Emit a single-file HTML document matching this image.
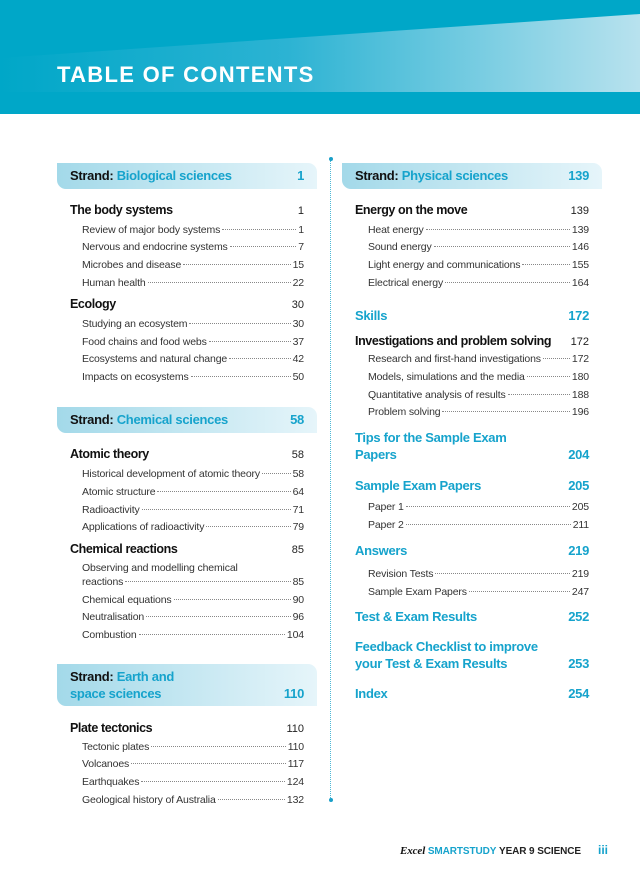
<!DOCTYPE html>
<html><head><meta charset="utf-8"><style>
*{margin:0;padding:0;box-sizing:border-box}
body{width:640px;height:875px;position:relative;background:#fff;font-family:"Liberation Sans",sans-serif;color:#222;overflow:hidden}
.hdr{position:absolute;left:0;top:0;width:640px;height:114px;background:#00a7c8;overflow:hidden}
.hdr .sw{position:absolute;left:0;top:0;width:640px;height:114px}
.title{position:absolute;left:57px;top:62px;font-size:22px;font-weight:bold;color:#fff;letter-spacing:1.3px}
.vl{position:absolute;left:330px;top:160px;height:640px;border-left:1px dotted #4db8d6}
.dot{position:absolute;width:4px;height:4px;border-radius:2px;background:#1a9fc8;left:328.5px}
.box{position:absolute;height:26px;border-radius:0 9px 0 9px;background:linear-gradient(90deg,#a3d9e9,#e6f5fa)}
.r{position:absolute;display:flex;align-items:baseline;height:16px;line-height:16px;white-space:nowrap}
.s{font-size:10.5px;letter-spacing:-0.15px;color:#333}
.h{font-size:12.5px;font-weight:bold;letter-spacing:-0.4px;color:#111}
.b{font-size:13px;font-weight:bold;letter-spacing:-0.3px;color:#16a3cc}
.st{font-size:13px;font-weight:bold;letter-spacing:-0.3px;color:#111}
.st span{color:#16a3cc}
.l{flex:1;border-bottom:1px dotted #888;margin:0 2px;height:1px;position:relative;top:-3px}
.g{flex:1}
.hn{font-size:11px;color:#222;font-weight:normal;letter-spacing:0}
</style></head><body>
<div class="hdr"><svg class="sw" viewBox="0 0 640 114"><defs><linearGradient id="g1" x1="0" x2="1"><stop offset="0" stop-color="#00a7c8"/><stop offset="0.45" stop-color="#2cb3d3"/><stop offset="1" stop-color="#b8e2ee"/></linearGradient></defs><polygon points="0,58 640,14 640,112 0,112" fill="url(#g1)"/><rect x="0" y="92" width="640" height="22" fill="#00a7c8"/></svg>
<div class="title">TABLE OF CONTENTS</div></div>
<div class="vl"></div><div class="dot" style="top:157px"></div><div class="dot" style="top:798px"></div>

<div class="box" style="left:57px;top:163px;width:260px"></div>
<div class="box" style="left:57px;top:407px;width:260px"></div>
<div class="box" style="left:57px;top:664px;width:260px;height:42px"></div>
<div class="box" style="left:342px;top:163px;width:260px"></div>

<div class="r st" style="left:70px;width:234px;top:168px">Strand:&nbsp;<span>Biological sciences</span><i class="g"></i><span>1</span></div>
<div class="r st" style="left:70px;width:234px;top:412px">Strand:&nbsp;<span>Chemical sciences</span><i class="g"></i><span>58</span></div>
<div class="r st" style="left:70px;width:234px;top:669px">Strand:&nbsp;<span>Earth and</span></div>
<div class="r st" style="left:70px;width:234px;top:686px"><span>space sciences</span><i class="g"></i><span>110</span></div>
<div class="r st" style="left:355px;width:234px;top:168px">Strand:&nbsp;<span>Physical sciences</span><i class="g"></i><span>139</span></div>

<div class="r h" style="left:70px;width:234px;top:202px">The body systems<i class="g"></i><span class="hn">1</span></div>
<div class="r s" style="left:82px;width:222px;top:222px">Review of major body systems<i class="l"></i>1</div>
<div class="r s" style="left:82px;width:222px;top:239px">Nervous and endocrine systems<i class="l"></i>7</div>
<div class="r s" style="left:82px;width:222px;top:257px">Microbes and disease<i class="l"></i>15</div>
<div class="r s" style="left:82px;width:222px;top:275px">Human health<i class="l"></i>22</div>
<div class="r h" style="left:70px;width:234px;top:296px">Ecology<i class="g"></i><span class="hn">30</span></div>
<div class="r s" style="left:82px;width:222px;top:316px">Studying an ecosystem<i class="l"></i>30</div>
<div class="r s" style="left:82px;width:222px;top:334px">Food chains and food webs<i class="l"></i>37</div>
<div class="r s" style="left:82px;width:222px;top:351px">Ecosystems and natural change<i class="l"></i>42</div>
<div class="r s" style="left:82px;width:222px;top:369px">Impacts on ecosystems<i class="l"></i>50</div>

<div class="r h" style="left:70px;width:234px;top:446px">Atomic theory<i class="g"></i><span class="hn">58</span></div>
<div class="r s" style="left:82px;width:222px;top:466px">Historical development of atomic theory<i class="l"></i>58</div>
<div class="r s" style="left:82px;width:222px;top:484px">Atomic structure<i class="l"></i>64</div>
<div class="r s" style="left:82px;width:222px;top:502px">Radioactivity<i class="l"></i>71</div>
<div class="r s" style="left:82px;width:222px;top:519px">Applications of radioactivity<i class="l"></i>79</div>
<div class="r h" style="left:70px;width:234px;top:541px">Chemical reactions<i class="g"></i><span class="hn">85</span></div>
<div class="r s" style="left:82px;width:222px;top:560px">Observing and modelling chemical</div>
<div class="r s" style="left:82px;width:222px;top:574px">reactions<i class="l"></i>85</div>
<div class="r s" style="left:82px;width:222px;top:592px">Chemical equations<i class="l"></i>90</div>
<div class="r s" style="left:82px;width:222px;top:609px">Neutralisation<i class="l"></i>96</div>
<div class="r s" style="left:82px;width:222px;top:627px">Combustion<i class="l"></i>104</div>

<div class="r h" style="left:70px;width:234px;top:720px">Plate tectonics<i class="g"></i><span class="hn">110</span></div>
<div class="r s" style="left:82px;width:222px;top:739px">Tectonic plates<i class="l"></i>110</div>
<div class="r s" style="left:82px;width:222px;top:756px">Volcanoes<i class="l"></i>117</div>
<div class="r s" style="left:82px;width:222px;top:774px">Earthquakes<i class="l"></i>124</div>
<div class="r s" style="left:82px;width:222px;top:792px">Geological history of Australia<i class="l"></i>132</div>

<div class="r h" style="left:355px;width:234px;top:202px">Energy on the move<i class="g"></i><span class="hn">139</span></div>
<div class="r s" style="left:368px;width:221px;top:222px">Heat energy<i class="l"></i>139</div>
<div class="r s" style="left:368px;width:221px;top:239px">Sound energy<i class="l"></i>146</div>
<div class="r s" style="left:368px;width:221px;top:257px">Light energy and communications<i class="l"></i>155</div>
<div class="r s" style="left:368px;width:221px;top:275px">Electrical energy<i class="l"></i>164</div>
<div class="r b" style="left:355px;width:234px;top:308px">Skills<i class="g"></i>172</div>
<div class="r h" style="left:355px;width:234px;top:333px">Investigations and problem solving<i class="g"></i><span class="hn">172</span></div>
<div class="r s" style="left:368px;width:221px;top:351px">Research and first-hand investigations<i class="l"></i>172</div>
<div class="r s" style="left:368px;width:221px;top:369px">Models, simulations and the media<i class="l"></i>180</div>
<div class="r s" style="left:368px;width:221px;top:387px">Quantitative analysis of results<i class="l"></i>188</div>
<div class="r s" style="left:368px;width:221px;top:404px">Problem solving<i class="l"></i>196</div>
<div class="r b" style="left:355px;width:234px;top:430px">Tips for the Sample Exam</div>
<div class="r b" style="left:355px;width:234px;top:447px">Papers<i class="g"></i>204</div>
<div class="r b" style="left:355px;width:234px;top:478px">Sample Exam Papers<i class="g"></i>205</div>
<div class="r s" style="left:368px;width:221px;top:499px">Paper 1<i class="l"></i>205</div>
<div class="r s" style="left:368px;width:221px;top:517px">Paper 2<i class="l"></i>211</div>
<div class="r b" style="left:355px;width:234px;top:543px">Answers<i class="g"></i>219</div>
<div class="r s" style="left:368px;width:221px;top:566px">Revision Tests<i class="l"></i>219</div>
<div class="r s" style="left:368px;width:221px;top:584px">Sample Exam Papers<i class="l"></i>247</div>
<div class="r b" style="left:355px;width:234px;top:609px">Test &amp; Exam Results<i class="g"></i>252</div>
<div class="r b" style="left:355px;width:234px;top:639px">Feedback Checklist to improve</div>
<div class="r b" style="left:355px;width:234px;top:656px">your Test &amp; Exam Results<i class="g"></i>253</div>
<div class="r b" style="left:355px;width:234px;top:686px">Index<i class="g"></i>254</div>

<div class="r" style="left:400px;top:843px;font-size:10px;font-weight:bold;letter-spacing:-0.1px"><i style="font-family:'Liberation Serif',serif;font-size:11px;color:#111">Excel</i>&nbsp;<span style="color:#16a3cc">SMARTSTUDY</span>&nbsp;<span style="color:#222">YEAR 9 SCIENCE</span></div>
<div class="r" style="left:598px;top:842px;font-size:12px;font-weight:bold;color:#16a3cc">iii</div>
</body></html>
